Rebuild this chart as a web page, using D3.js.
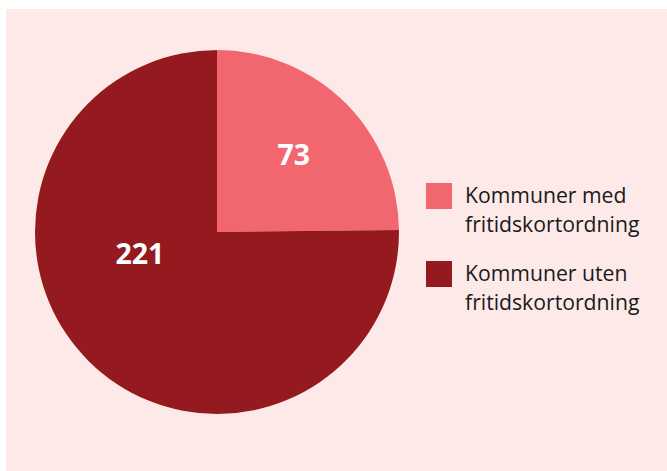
<!DOCTYPE html>
<html><head><meta charset="utf-8">
<script src="https://cdn.jsdelivr.net/npm/d3@7"></script>
<style>html,body{margin:0;padding:0;background:#fff;}</style>
</head><body>
<script>
const categories = ["Kommuner med fritidskortordning", "Kommuner uten fritidskortordning"];
const legendLines = [["Kommuner med", "fritidskortordning"], ["Kommuner uten", "fritidskortordning"]];
const values = [73, 221];
const colors = ["#f26670", "#951a1f"];

const W = 667, H = 471;
const svg = d3.select("body").append("svg").attr("width", W).attr("height", H);
svg.append("rect").attr("x", 6).attr("y", 9).attr("width", W - 6).attr("height", H - 9).attr("fill", "#fdeae8");

const cx = 217, cy = 232, r = 182;
const pie = d3.pie().sort(null).value(d => d)(values);
const arc = d3.arc().innerRadius(0).outerRadius(r);
const g = svg.append("g").attr("transform", `translate(${cx},${cy})`);
g.selectAll("path").data(pie).join("path").attr("d", arc).attr("fill", (d, i) => colors[i]);

// label placement: fraction along the slice and fraction of radius
const labelFrac = [0.5, 0.61];
const labelRad = [0.6, 0.44];
g.selectAll("text").data(pie).join("text")
  .attr("transform", (d, i) => {
    const a = d.startAngle + (d.endAngle - d.startAngle) * labelFrac[i];
    const rr = r * labelRad[i];
    return `translate(${Math.sin(a) * rr},${-Math.cos(a) * rr})`;
  })
  .attr("text-anchor", "middle").attr("dominant-baseline", "central")
  .attr("font-family", "Open Sans, sans-serif").attr("font-weight", "bold").attr("font-size", 28.5)
  .attr("fill", "#fff").text(d => d.data);

const lg = svg.append("g").attr("transform", "translate(426,183)");
const items = lg.selectAll("g").data(categories).join("g").attr("transform", (d, i) => `translate(0,${i * 78})`);
items.append("rect").attr("width", 26).attr("height", 26).attr("fill", (d, i) => colors[i]);
items.append("text").attr("x", 39).attr("y", 20)
  .attr("font-family", "Open Sans, sans-serif").attr("font-size", 21.2).attr("fill", "#1a1a1a")
  .selectAll("tspan").data((d, i) => legendLines[i]).join("tspan")
  .attr("x", 39).attr("dy", (d, j) => j === 0 ? 0 : 29).text(d => d);
</script>
</body></html>
